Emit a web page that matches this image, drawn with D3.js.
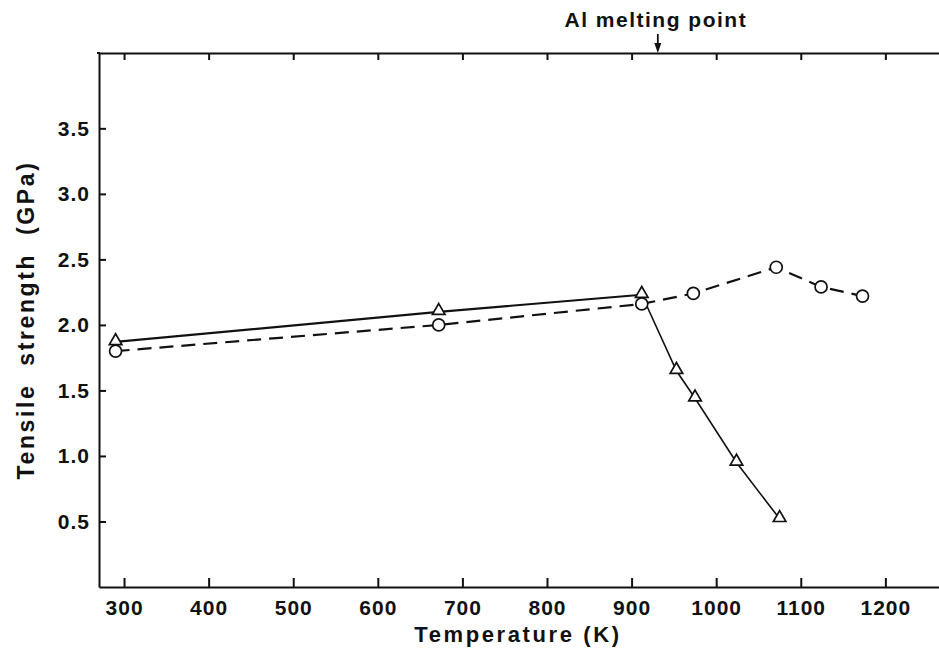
<!DOCTYPE html>
<html>
<head>
<meta charset="utf-8">
<script src="https://cdn.jsdelivr.net/npm/d3@7"></script>
<style>
  html, body { margin: 0; padding: 0; background: #fff; }
  svg { display: block; }
  text { font-family: "Liberation Sans", Arial, sans-serif; fill: #111; }
</style>
</head>
<body>
<svg id="chart" width="939" height="655"></svg>
<script>
// ---- data ----
const triangleTemps  = [290, 672, 912, 953, 975, 1024, 1075];
const triangleValues = [1.87, 2.10, 2.23, 1.65, 1.44, 0.95, 0.52];
const circleTemps    = [290, 672, 912, 973, 1071, 1124, 1173];
const circleValues   = [1.80, 2.00, 2.16, 2.24, 2.44, 2.29, 2.22];
const xTicks = [300, 400, 500, 600, 700, 800, 900, 1000, 1100, 1200];
const yTicks = [0.5, 1.0, 1.5, 2.0, 2.5, 3.0, 3.5];
const meltingPoint = 931;
const xTitle = "Temperature (K)";
const yTitle = "Tensile\u00a0\u00a0strength\u00a0\u00a0(GPa)";
const annotation = "Al melting point";

const svg = d3.select("#chart");
const mLeft = 99, mRight = 939, mTop = 53, mBottom = 587;

const x = d3.scaleLinear().domain([270.4, 1263.4]).range([mLeft, mRight]);
const y = d3.scaleLinear().domain([0, 4.075]).range([mBottom, mTop]);

const ink = "#111";

// axes
const xAxis = d3.axisBottom(x).tickValues(xTicks).tickSizeInner(-9).tickSizeOuter(0).tickPadding(13)
  .tickFormat(d3.format("d"));
const gx = svg.append("g").attr("transform", `translate(0,${mBottom})`).call(xAxis);
const xTopAxis = d3.axisTop(x).tickValues(xTicks).tickSizeInner(-7).tickSizeOuter(0).tickFormat("");
const gt = svg.append("g").attr("transform", `translate(0,${mTop})`).call(xTopAxis);
const yAxis = d3.axisLeft(y).tickValues(yTicks).tickSizeInner(-7).tickSizeOuter(0).tickPadding(9)
  .tickFormat(d3.format(".1f"));
const gy = svg.append("g").attr("transform", `translate(${mLeft},0)`).call(yAxis);

[gx, gt, gy].forEach(g => {
  g.select(".domain").attr("stroke", ink).attr("stroke-width", 2);
  g.selectAll(".tick line").attr("stroke", ink).attr("stroke-width", 2);
  g.selectAll(".tick text")
    .style("font-family", '"Liberation Sans", Arial, sans-serif')
    .style("font-size", "21px").style("font-weight", "bold")
    .style("letter-spacing", "1px").attr("fill", ink);
});
svg.append("line").attr("x1", mLeft - 2).attr("x2", mLeft + 1).attr("y1", mTop).attr("y2", mTop)
  .attr("stroke", ink).attr("stroke-width", 2);

// lines
const lineGen = d3.line().x(d => x(d[0])).y(d => y(d[1]));
const triData = triangleTemps.map((t, i) => [t, triangleValues[i]]);
const cirData = circleTemps.map((t, i) => [t, circleValues[i]]);

svg.append("path").datum(cirData).attr("d", lineGen)
  .attr("fill", "none").attr("stroke", ink).attr("stroke-width", 2.2)
  .attr("stroke-dasharray", "14,8");
svg.append("path").datum(triData.slice(0, 3)).attr("d", lineGen)
  .attr("fill", "none").attr("stroke", ink).attr("stroke-width", 2.2);
svg.append("path").datum(triData.slice(2)).attr("d", lineGen)
  .attr("fill", "none").attr("stroke", ink).attr("stroke-width", 1.6);

// markers
svg.selectAll("circle.pt").data(cirData).enter().append("circle")
  .attr("class", "pt").attr("cx", d => x(d[0])).attr("cy", d => y(d[1])).attr("r", 6)
  .attr("fill", "#fff").attr("stroke", ink).attr("stroke-width", 1.7);
const tri = d3.symbol().type(d3.symbolTriangle).size(68);
svg.selectAll("path.tri").data(triData).enter().append("path")
  .attr("class", "tri").attr("d", tri)
  .attr("transform", d => `translate(${x(d[0])},${y(d[1]) - 1})`)
  .attr("fill", "#fff").attr("stroke", ink).attr("stroke-width", 1.7);

// titles
svg.append("text").attr("x", 518).attr("y", 642).attr("text-anchor", "middle")
  .style("font-size", "22px").style("font-weight", "bold").style("letter-spacing", "2.6px")
  .text(xTitle);
svg.append("text").attr("transform", "translate(34,320) rotate(-90)").attr("text-anchor", "middle")
  .style("font-size", "23px").style("font-weight", "bold").style("letter-spacing", "2.6px")
  .text(yTitle);

// annotation
const mx = x(meltingPoint);
svg.append("text").attr("x", mx - 2).attr("y", 27).attr("text-anchor", "middle")
  .style("font-size", "21px").style("font-weight", "bold").style("letter-spacing", "1.5px")
  .text(annotation);
svg.append("line").attr("x1", mx).attr("x2", mx).attr("y1", 34).attr("y2", mTop - 6)
  .attr("stroke", ink).attr("stroke-width", 1.8);
svg.append("path")
  .attr("d", `M${mx - 3.5},${mTop - 10} L${mx + 3.5},${mTop - 10} L${mx},${mTop} Z`)
  .attr("fill", ink);
</script>
</body>
</html>
